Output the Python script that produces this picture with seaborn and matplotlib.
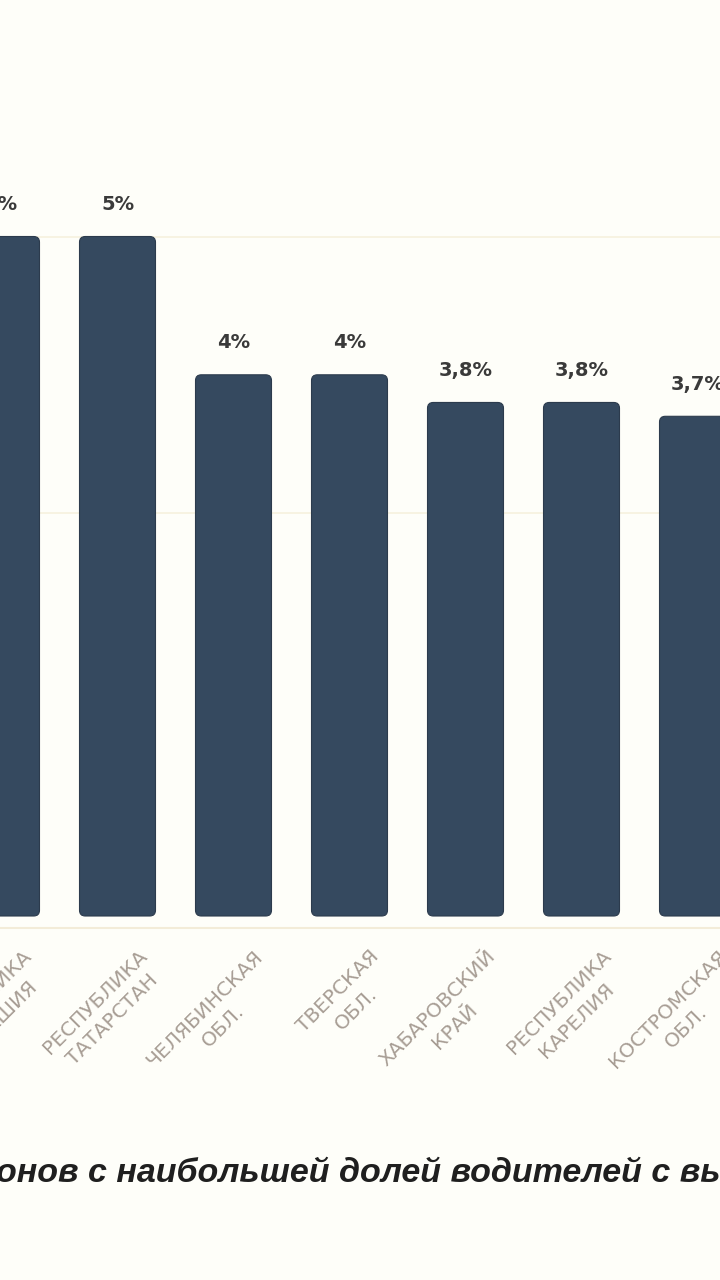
import numpy as np
import pandas as pd
from matplotlib import pyplot as plt
from matplotlib import transforms as mtrans
from matplotlib.patches import FancyBboxPatch
import seaborn as sns


# Data (first and last bars are cut by the frame)
regions = ['РЕСПУБЛИКА\nЧУВАШИЯ', 'РЕСПУБЛИКА\nТАТАРСТАН', 'ЧЕЛЯБИНСКАЯ\nОБЛ.',
           'ТВЕРСКАЯ\nОБЛ.', 'ХАБАРОВСКИЙ\nКРАЙ', 'РЕСПУБЛИКА\nКАРЕЛИЯ',
           'КОСТРОМСКАЯ\nОБЛ.']
share = [5.0, 5.0, 4.0, 4.0, 3.8, 3.8, 3.7]
grid_values = [3, 5]
title_fragment = 'онов с наибольшей долей водителей с вы'

df = pd.DataFrame({'region': regions, 'share': share})

bg = '#fefef9'
bar_color = '#35495f'
label_color = '#a89e95'

sns.set_style('white')
plt.rcParams['font.family'] = ['DejaVu Sans']

fig = plt.figure(figsize=(7.2, 12.8), dpi=100, facecolor=bg)
ax = fig.add_axes([0, 1 - 928 / 1280, 1, 928 / 1280])
ax.set_facecolor(bg)

sns.barplot(data=df, x='region', y='share', color=bar_color, width=0.655,
            saturation=1, ax=ax, zorder=3)

# px -> data: category step 116 px, 1% = ~138 px
ax.set_xlim(-1.5 / 116, (720 - 1.5) / 116)
ax.set_ylim(0, 928 / 138.3)

# swap plain bars for rounded ones, with a small gap above the baseline
gap = 12 / 138.3
for p in list(ax.patches):
    x, w, h = p.get_x(), p.get_width(), p.get_height()
    rb = FancyBboxPatch((x, gap), w, h - gap,
                        boxstyle='round,pad=0,rounding_size=0.05',
                        mutation_aspect=0.83, fc=bar_color,
                        ec='#2c3b4d', lw=0.8, zorder=3)
    p.remove()
    ax.add_patch(rb)

# value labels
for i, v in enumerate(share):
    txt = f'{v:g}'.replace('.', ',') + '%'
    ax.annotate(txt, (i, v), xytext=(0, 32), textcoords='offset pixels',
                ha='center', va='center', fontsize=14, fontweight='bold',
                color='#3a3a3a', zorder=4)

# faint grid and baseline
ax.set_yticks(grid_values)
ax.yaxis.grid(True, color='#f6f1de', lw=1.2, zorder=0)
ax.tick_params(axis='y', left=False, labelleft=False)
for s in ['top', 'right', 'left']:
    ax.spines[s].set_visible(False)
ax.spines['bottom'].set_color('#f3ecd8')
ax.spines['bottom'].set_linewidth(1.5)

ax.set_xlabel('')
ax.set_ylabel('')
ax.tick_params(axis='x', bottom=False, pad=10)
ax.set_xticks(range(len(regions)))
ax.set_xticklabels(regions, rotation=45, ha='right', va='top',
                   rotation_mode='anchor', multialignment='center',
                   fontsize=14.5, color=label_color, linespacing=1.4)
shift = mtrans.ScaledTranslation(20 / 100, 0, fig.dpi_scale_trans)
for lab in ax.get_xticklabels():
    lab.set_transform(lab.get_transform() + shift)

fig.text(-4 / 720, 1 - 1173 / 1280, title_fragment, ha='left', va='center',
         fontsize=24.5, style='italic', fontweight='bold', color='#1f1f1f',
         family=['Liberation Sans', 'DejaVu Sans'])

fig.savefig('out.png', dpi=100, facecolor=bg)
